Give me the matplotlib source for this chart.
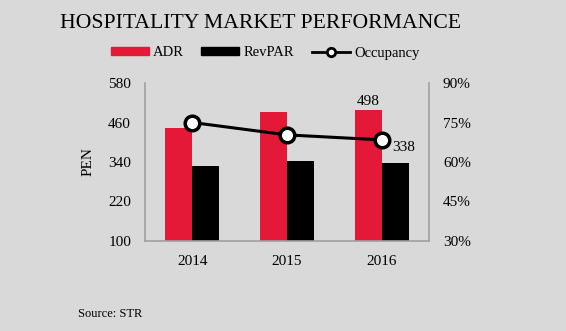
import matplotlib.pyplot as plt
import numpy as np
from matplotlib.lines import Line2D
from matplotlib.patches import Patch

years = ["2014", "2015", "2016"]
adr = [444, 492, 498]
revpar = [329, 344, 338]
occupancy = [75.0, 70.3, 68.4]

plt.rcParams['font.family'] = ['Liberation Serif', 'DejaVu Serif']
bg = '#d9d9d9'
red = '#e31937'

fig = plt.figure(figsize=(5.66, 3.31), dpi=100, facecolor=bg)
ax = fig.add_axes([145/566, 1-241/331, 284/566, 158/331])
ax.set_facecolor(bg)
x = np.arange(len(years))
w = 0.284
ax.bar(x - w/2, adr, w, color=red, zorder=2)
ax.bar(x + w/2, revpar, w, color='black', zorder=2)
ax.set_xlim(-0.5, 2.5)
ax.set_ylim(100, 580)
ax.set_yticks([100, 220, 340, 460, 580])
ax.set_xticks(x)
ax.set_xticklabels(years)
ax.tick_params(length=0, labelsize=11)
ax.tick_params(axis='x', pad=10)
ax.tick_params(axis='y', pad=10)
for s in ['top', 'right']:
    ax.spines[s].set_visible(False)
for s in ['left', 'bottom']:
    ax.spines[s].set_color('#a0a0a0')
    ax.spines[s].set_linewidth(1.2)
ax.set_ylabel('PEN', fontsize=11, labelpad=10)

ax.text(x[2] - w/2, adr[2] + 6, str(adr[2]), ha='center', va='bottom', fontsize=11)
ax.text(x[2] + 0.11, 383, str(revpar[2]), ha='left', va='center', fontsize=11)

ax2 = ax.twinx()
ax2.set_ylim(30, 90)
ax2.set_yticks([30, 45, 60, 75, 90])
ax2.set_yticklabels([f"{v}%" for v in [30, 45, 60, 75, 90]])
ax2.plot(x, occupancy, color='black', lw=2.2, marker='o', ms=10.5,
         mfc='white', mec='black', mew=2.5, zorder=5)
ax2.tick_params(length=0, labelsize=11, pad=10)
for s in ['top', 'left', 'bottom']:
    ax2.spines[s].set_visible(False)
ax2.spines['right'].set_color('#a0a0a0')
ax2.spines['right'].set_linewidth(1.2)

fig.text(261/566, 1-23/331, 'HOSPITALITY MARKET PERFORMANCE', ha='center', va='center', fontsize=15.6)

handles = [Patch(color=red), Patch(color='black'),
           Line2D([], [], color='black', lw=2, marker='o', ms=6, mfc='white', mew=2)]
fig.legend(handles, ['ADR', 'RevPAR', 'Occupancy'], loc='center', bbox_to_anchor=(265/566, 1-53/331),
           ncol=3, frameon=False, fontsize=10.5, handlelength=2.6, handleheight=0.5,
           columnspacing=1.2, handletextpad=0.3)

fig.text(78/566, 1-314/331, 'Source: STR', ha='left', va='center', fontsize=9)

fig.savefig('out.png', dpi=100, facecolor=bg)
